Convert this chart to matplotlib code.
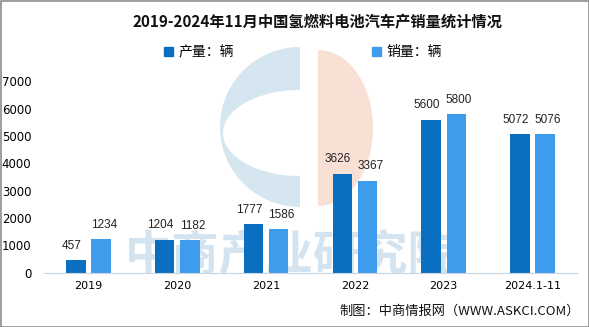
import matplotlib
matplotlib.use("Agg")
import matplotlib.pyplot as plt
import matplotlib.patches as mpatches
import numpy as np

plt.rcParams["font.family"] = ["Noto Sans CJK SC", "DejaVu Sans"]

years = ["2019", "2020", "2021", "2022", "2023", "2024.1-11"]
production = [457, 1204, 1777, 3626, 5600, 5072]
sales = [1234, 1182, 1586, 3367, 5800, 5076]
y_ticks = [0, 1000, 2000, 3000, 4000, 5000, 6000, 7000]

DARK = "#0B6FC1"
LIGHT = "#3E9CEC"
W, H = 589, 327

fig = plt.figure(figsize=(W / 100, H / 100), dpi=100)
fig.patch.set_facecolor("white")

# background watermark logo, drawn in pixel coords
bg = fig.add_axes([0, 0, 1, 1], zorder=0)
bg.set_xlim(0, W)
bg.set_ylim(H, 0)
bg.axis("off")

t = np.linspace(np.pi / 2, 3 * np.pi / 2, 80)
outer = np.column_stack([300 + 80 * np.cos(t), 127 - 80 * np.sin(t)])
inner = np.column_stack([300 + 77 * np.cos(t[::-1]), 133 - 43 * np.sin(t[::-1])])
bg.add_patch(mpatches.Polygon(np.vstack([outer, inner]), closed=True, color="#d6e6f1", lw=0))

t2 = np.linspace(-np.pi / 2, np.pi / 2, 80)
half = np.column_stack([318 + 55 * np.cos(t2), 128 - 78 * np.sin(t2)])
bg.add_patch(mpatches.Polygon(half, closed=True, color="#f8e0d5", lw=0))

bg.add_patch(mpatches.Rectangle((0.5, 0.5), W - 1, H - 1, fill=False, ec="#8c8c8c", lw=1.2))
bg.text(290, 255, "中商产业研究院", fontsize=34, color="#d3e4f0", ha="center", va="center",
        fontweight="bold")

ax = fig.add_axes([44 / W, 1 - 272.7 / H, (577 - 44) / W, (272.7 - 81.2) / H], zorder=1)
ax.patch.set_alpha(0)

x = np.arange(len(years))
bw = 0.22
off = 0.142
b1 = ax.bar(x - off, production, bw, color=DARK, label="产量：辆")
b2 = ax.bar(x + off, sales, bw, color=LIGHT, label="销量：辆")

# labels nudged apart a little, like the original
for bars, vals, dx in ((b1, production, -3), (b2, sales, 2)):
    for rect, v in zip(bars, vals):
        ax.annotate(str(v), (rect.get_x() + rect.get_width() / 2, v),
                    xytext=(dx, 6), textcoords="offset points",
                    ha="center", va="bottom", fontsize=8.5, color="#222222",
                    family="Liberation Sans")

ax.set_xlim(-0.5, len(years) - 0.5)
ax.set_ylim(0, 7000)
ax.set_yticks(y_ticks)
ax.set_xticks(x)
ax.set_xticklabels(years, fontsize=8, family="DejaVu Sans")
ax.tick_params(axis="y", length=0, labelsize=8.5, pad=9)
ax.tick_params(axis="x", length=0, pad=6)
for lbl in ax.get_yticklabels():
    lbl.set_family("DejaVu Sans")
for s in ("top", "right", "left"):
    ax.spines[s].set_visible(False)
ax.spines["bottom"].set_color("#c8d4e0")

fig.text(317 / W, 1 - 22 / H, "2019-2024年11月中国氢燃料电池汽车产销量统计情况",
         ha="center", va="center", fontsize=11, fontweight="bold", color="#111111")

handles = [mpatches.Patch(color=DARK, label="产量：辆"), mpatches.Patch(color=LIGHT, label="销量：辆")]
fig.legend(handles=handles, loc="center", bbox_to_anchor=(303 / W, 1 - 52 / H), ncol=2,
           frameon=False, fontsize=10, handlelength=0.6, handleheight=0.6,
           handletextpad=0.4, columnspacing=10.0)

fig.text(580 / W, 1 - 311 / H, "制图：中商情报网（WWW.ASKCI.COM）", ha="right", va="center",
         fontsize=9.5, color="#111111")

fig.savefig("out.png", dpi=100)
